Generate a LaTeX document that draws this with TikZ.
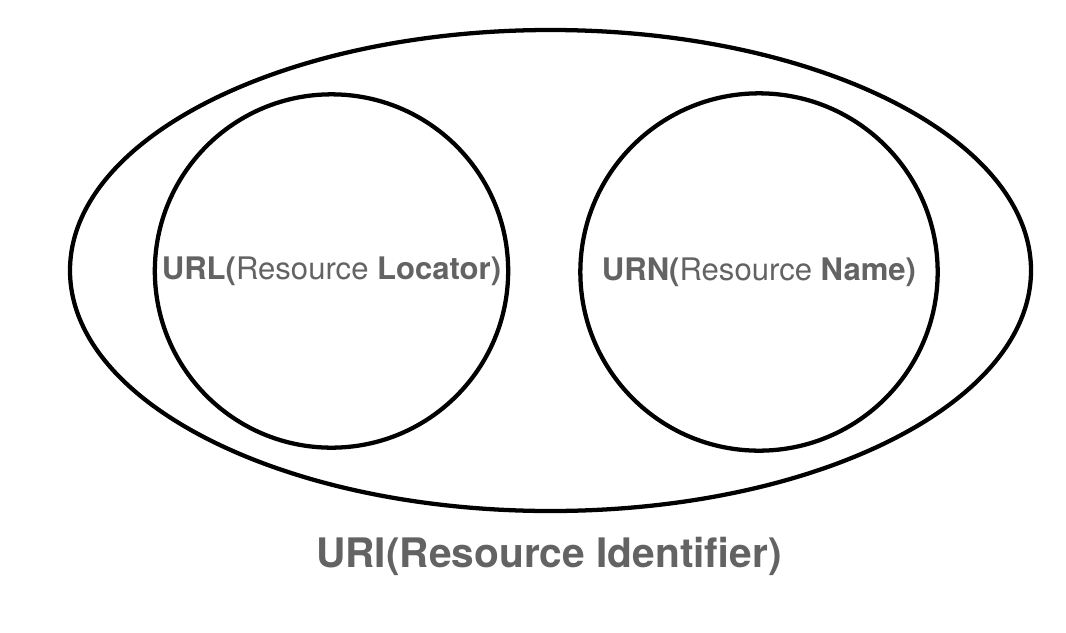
\documentclass[tikz,border=0pt]{standalone}
\usepackage{fontspec}
\setmainfont{TeX Gyre Heros}
\usetikzlibrary{shapes.geometric}
\definecolor{labelgray}{HTML}{636363}

\begin{document}
\begin{tikzpicture}[
			x = 0.75pt, y = -0.75pt,
			ring/.style={draw=black, line width=3.2pt, inner sep=0pt},
			ringtext/.style={text=labelgray, font=\fontsize{23.3}{27}\selectfont}
			]

			\useasboundingbox (0,0) rectangle (1066,632);

			\node[ring, ellipse, minimum width=720.75pt, minimum height=360.75pt] (uri) at (550.5,270.5) {};
			\node[ring, circle, minimum size=265pt, ringtext] (url) at (331.5,271) {\textbf{URL(}Resource \textbf{Locator)}};
			\node[ring, circle, minimum size=268pt, ringtext] (urn) at (759,272) {\textbf{URN(}Resource \textbf{Name)}};

			\node[text=labelgray, font=\fontsize{30.5}{36}\selectfont\bfseries] (uriname) at (549,556) {URI(Resource Identifier)};

		\end{tikzpicture}
\end{document}
